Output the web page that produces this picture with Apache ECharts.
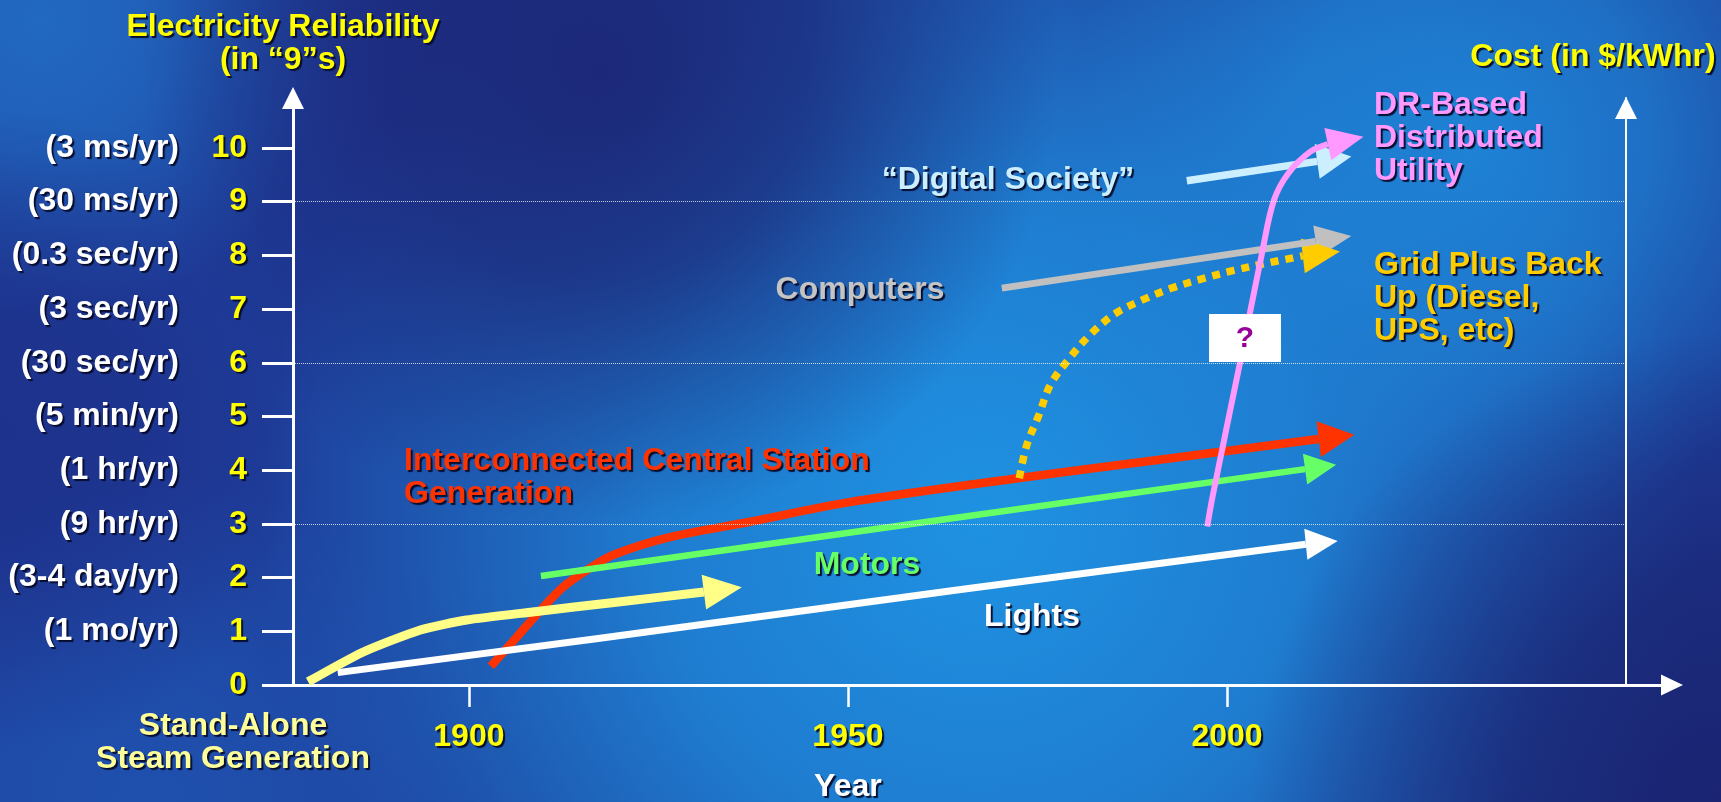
<!DOCTYPE html>
<html>
<head>
<meta charset="utf-8">
<title>Electricity Reliability vs. Cost</title>
<script src="https://cdn.jsdelivr.net/npm/echarts@6/dist/echarts.min.js"></script>
<style>
  html, body { margin: 0; padding: 0; background: #1e3d9a; }
  #chart { width: 1721px; height: 802px; }
</style>
</head>
<body>
<div id="chart"></div>
<script>
// ---- Axis content -------------------------------------------------------
// Reliability in "nines" on the left axis, with the yearly downtime each level allows
const reliabilityTicks = [0, 1, 2, 3, 4, 5, 6, 7, 8, 9, 10];
const downtimeLabels = ['', '(1 mo/yr)', '(3-4 day/yr)', '(9 hr/yr)', '(1 hr/yr)', '(5 min/yr)',
  '(30 sec/yr)', '(3 sec/yr)', '(0.3 sec/yr)', '(30 ms/yr)', '(3 ms/yr)'];
const yearTicks = [1900, 1950, 2000];
const guideLevels = [3, 6, 9];

// ---- Trends: [year, nines] up to the arrowhead base, then the arrow tip ----
const standAloneSteam = [[1878.8, 0.06], [1886.0, 0.61], [1893.5, 1.02], [1899.7, 1.21],
  [1908.4, 1.36], [1920.0, 1.55], [1931.0, 1.73]];
const standAloneSteamTip = [1936.0, 1.82];

const lights = [[1882.7, 0.23], [1917.3, 0.87], [1964.4, 1.77], [2010.4, 2.62]];
const lightsTip = [2014.6, 2.68];

const motors = [[1909.5, 2.03], [1960.0, 3.03], [2010.3, 4.02]];
const motorsTip = [2014.4, 4.10];

const centralStation = [[1902.9, 0.35], [1906.3, 0.89], [1909.5, 1.40], [1912.4, 1.82],
  [1916.0, 2.18], [1919.0, 2.42], [1926.1, 2.74], [1937.1, 3.04], [1950.0, 3.40],
  [1972.4, 3.85], [1989.8, 4.17], [2012.1, 4.58]];
const centralStationTip = [2016.8, 4.66];

const computers = [[1970.3, 7.39], [2011.7, 8.26]];
const computersTip = [2016.4, 8.36];

const digitalSociety = [[1994.7, 9.39], [2011.9, 9.75]];
const digitalSocietyTip = [2016.4, 9.84];

const gridPlusBackup = [[1972.6, 3.85], [1973.6, 4.47], [1975.2, 5.03], [1976.7, 5.59],
  [1979.2, 6.08], [1982.0, 6.53], [1985.2, 6.91], [1989.0, 7.18], [1992.9, 7.40],
  [1996.9, 7.57], [2000.9, 7.72], [2005.1, 7.85], [2010.0, 7.99]];
const gridPlusBackupTip = [2014.9, 8.07];

const drDistributed = [[1997.4, 2.95], [1998.1, 3.51], [2001.7, 5.99], [2004.7, 8.10],
  [2006.2, 9.03], [2008.1, 9.53], [2011.0, 9.93], [2013.3, 10.07]];
const drDistributedTip = [2018.0, 10.21];

// ---- Layout ---------------------------------------------------------------
const YEAR_MIN = 1876.8;
const YEAR_MAX = 2058.7;
const COST_AXIS_YEAR = 2052.6;   // where the cost axis stands
const NINES_MAX = 10.93;
const FONT = '"Liberation Sans", Arial, Helvetica, sans-serif';
const SHADOW = { textShadowColor: 'rgba(5,10,40,0.95)', textShadowBlur: 1, textShadowOffsetX: 2, textShadowOffsetY: 2 };

function bold(color, extra) {
  return Object.assign({ color: color, fontFamily: FONT, fontWeight: 'bold', fontSize: 32 }, SHADOW, extra || {});
}

// Trend body drawn as a line
function trendLine(name, points, color, width, opts) {
  return Object.assign({
    name: name,
    type: 'line',
    data: points,
    showSymbol: false,
    silent: true,
    animation: false,
    lineStyle: { color: color, width: width, cap: 'butt', join: 'round' }
  }, opts || {});
}

// Triangular arrowhead from the last trend point to the tip, oriented in pixel space
function arrowHead(name, points, tip, color, headWidth) {
  const base = points[points.length - 1];
  return {
    name: name + ' head',
    type: 'custom',
    silent: true,
    animation: false,
    data: [[base[0], base[1], tip[0], tip[1]]],
    renderItem: function (params, api) {
      const b = api.coord([api.value(0), api.value(1)]);
      const t = api.coord([api.value(2), api.value(3)]);
      const dx = t[0] - b[0], dy = t[1] - b[1];
      const len = Math.hypot(dx, dy) || 1;
      const nx = -dy / len, ny = dx / len, h = headWidth / 2;
      return {
        type: 'polygon',
        shape: { points: [t, [b[0] + nx * h, b[1] + ny * h], [b[0] - nx * h, b[1] - ny * h]] },
        style: { fill: color }
      };
    }
  };
}

function caption(text, x, y, color, align) {
  return {
    type: 'text', x: x, y: y, z: 100, silent: true,
    style: Object.assign({
      text: text, fill: color, font: 'bold 32px ' + FONT,
      align: align || 'center', verticalAlign: 'middle', lineHeight: 33
    }, SHADOW)
  };
}

function glow(cx, cy, r, rgb, alpha) {
  return {
    type: 'circle', z: -100, silent: true,
    shape: { cx: cx, cy: cy, r: r },
    style: {
      fill: {
        type: 'radial', x: 0.5, y: 0.5, r: 0.5,
        colorStops: [
          { offset: 0, color: 'rgba(' + rgb + ',' + alpha + ')' },
          { offset: 0.45, color: 'rgba(' + rgb + ',' + (alpha * 0.75) + ')' },
          { offset: 1, color: 'rgba(' + rgb + ',0)' }
        ]
      }
    }
  };
}

const chart = echarts.init(document.getElementById('chart'), null, { renderer: 'canvas' });

const option = {
  animation: false,
  backgroundColor: '#1e3d9a',
  textStyle: { fontFamily: FONT },
  grid: { left: 293, right: 49, top: 98, bottom: 117, outerBoundsMode: 'none', containLabel: false },
  xAxis: {
    type: 'value',
    min: YEAR_MIN,
    max: YEAR_MAX,
    splitLine: { show: false },
    axisLine: {
      show: true, symbol: ['none', 'triangle'], symbolSize: [21, 22],
      lineStyle: { color: '#ffffff', width: 3 }
    },
    axisTick: { show: true, customValues: yearTicks, length: 22, inside: false, lineStyle: { color: '#ffffff', width: 2.5 } },
    axisLabel: {
      show: true, customValues: yearTicks, margin: 27,
      formatter: function (v) { return v === 1950 ? '{yr|1950}\n{nm|Year}' : '{yr|' + v + '}'; },
      rich: {
        yr: bold('#ffff00', { lineHeight: 50 }),
        nm: bold('#ffffff', { lineHeight: 50 })
      }
    }
  },
  yAxis: [
    {
      type: 'value',
      min: 0,
      max: NINES_MAX,
      position: 'left',
      splitLine: { show: false },
      axisLine: {
        show: true, symbol: ['none', 'triangle'], symbolSize: [22, 22],
        lineStyle: { color: '#ffffff', width: 3 }
      },
      axisTick: { show: true, customValues: reliabilityTicks, length: 31, inside: false, lineStyle: { color: '#ffffff', width: 3 } },
      axisLabel: {
        show: true, customValues: reliabilityTicks, margin: 46,
        formatter: function (v) { return '{d|' + downtimeLabels[v] + '}{n|' + v + '}'; },
        rich: {
          d: bold('#ffffff', { width: 175, align: 'right' }),
          n: bold('#ffff00', { width: 68, align: 'right' })
        }
      },
      name: 'Electricity Reliability\n(in \u201c9\u201ds)',
      nameLocation: 'end',
      nameGap: 21,
      nameMoveOverlap: false,
      nameTextStyle: bold('#ffff00', { lineHeight: 33, align: 'center', padding: [0, 20, 0, 0] })
    },
    {
      type: 'value',
      min: 0,
      max: NINES_MAX,
      position: 'right',
      offset: -46,
      splitLine: { show: false },
      axisTick: { show: false },
      axisLabel: { show: false },
      axisLine: {
        show: true, symbol: ['none', 'triangle'], symbolSize: [22, 22], symbolOffset: [0, -10],
        lineStyle: { color: '#ffffff', width: 2 }
      },
      name: 'Cost (in $/kWhr)',
      nameLocation: 'end',
      nameGap: 24,
      nameMoveOverlap: false,
      nameTextStyle: bold('#ffff00', { lineHeight: 33, align: 'center', padding: [0, 66, 0, 0] })
    }
  ],
  graphic: {
    elements: [
      // backdrop shading
      glow(980, 520, 720, '31,146,226', 1),
      glow(1470, 140, 400, '30,136,218', 0.9),
      glow(40, 20, 300, '34,116,204', 0.8),
      glow(150, 802, 330, '32,96,190', 0.55),
      glow(600, 70, 460, '28,38,118', 0.95),
      glow(1721, 802, 470, '26,35,112', 0.95),
      glow(0, 430, 320, '29,45,134', 0.7),
      // annotations
      caption('Stand-Alone\nSteam Generation', 233, 743, '#ffff99', 'center'),
      caption('\u201cDigital Society\u201d', 1008, 180, '#ccefff', 'center'),
      caption('Computers', 860, 290, '#c4c4c4', 'center'),
      caption('Interconnected Central Station\nGeneration', 404, 478, '#ff3300', 'left'),
      caption('Motors', 867, 565, '#66ff66', 'center'),
      caption('Lights', 1032, 617, '#ffffff', 'center'),
      caption('DR-Based\nDistributed\nUtility', 1374, 138, '#ff99ff', 'left'),
      caption('Grid Plus Back\nUp (Diesel,\nUPS, etc)', 1374, 298, '#ffcc00', 'left'),
      {
        type: 'rect', z: 100, silent: true,
        shape: { x: 1209, y: 314, width: 72, height: 48 },
        style: { fill: '#ffffff' }
      },
      {
        type: 'text', x: 1245, y: 339, z: 101, silent: true,
        style: { text: '?', fill: '#990099', font: 'bold 30px ' + FONT, align: 'center', verticalAlign: 'middle' }
      }
    ]
  },
  series: [
    trendLine('Interconnected Central Station Generation', centralStation, '#ff3300', 8.5, {
      smooth: 0.3,
      markLine: {
        silent: true, symbol: ['none', 'none'], animation: false,
        label: { show: false },
        lineStyle: { color: 'rgba(255,255,255,0.75)', width: 1, type: 'dotted' },
        data: guideLevels.map(function (v) { return [{ coord: [YEAR_MIN, v] }, { coord: [COST_AXIS_YEAR, v] }]; })
      }
    }),
    arrowHead('Interconnected Central Station Generation', centralStation, centralStationTip, '#ff3300', 36),
    trendLine('Lights', lights, '#ffffff', 7),
    arrowHead('Lights', lights, lightsTip, '#ffffff', 31),
    trendLine('Stand-Alone Steam Generation', standAloneSteam, '#ffff88', 9, { smooth: 0.2 }),
    arrowHead('Stand-Alone Steam Generation', standAloneSteam, standAloneSteamTip, '#ffff88', 35),
    trendLine('Motors', motors, '#66ff66', 6.5),
    arrowHead('Motors', motors, motorsTip, '#66ff66', 31),
    trendLine('Computers', computers, '#c0c0c0', 7),
    arrowHead('Computers', computers, computersTip, '#c0c0c0', 32),
    trendLine('Digital Society', digitalSociety, '#ccefff', 7.5),
    arrowHead('Digital Society', digitalSociety, digitalSocietyTip, '#ccefff', 35),
    trendLine('Grid Plus Back Up', gridPlusBackup, '#ffcc00', 7.5, {
      smooth: 0.35,
      lineStyle: { color: '#ffcc00', width: 7.5, type: [8, 7], cap: 'butt' }
    }),
    arrowHead('Grid Plus Back Up', gridPlusBackup, gridPlusBackupTip, '#ffcc00', 35),
    trendLine('DR-Based Distributed Utility', drDistributed, '#ff99ff', 6, { smooth: 0.35 }),
    arrowHead('DR-Based Distributed Utility', drDistributed, drDistributedTip, '#ff99ff', 33)
  ]
};

chart.setOption(option);
</script>
</body>
</html>
